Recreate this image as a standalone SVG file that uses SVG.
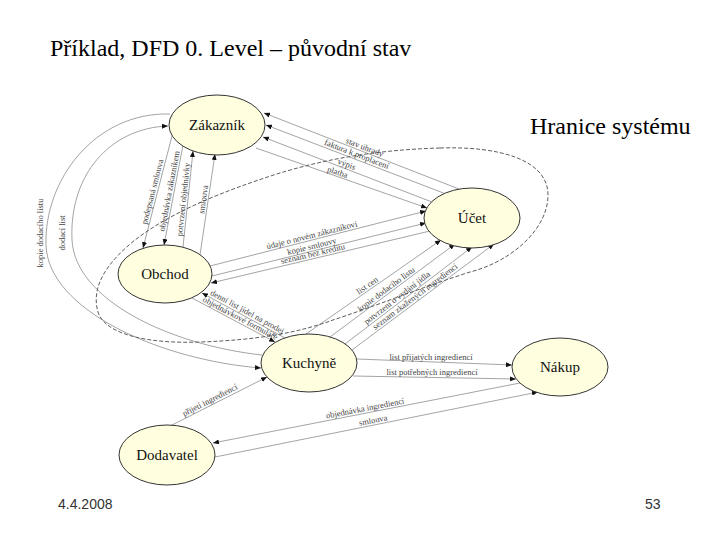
<svg xmlns="http://www.w3.org/2000/svg" width="720" height="540" viewBox="0 0 720 540">
<style>
.bg{fill:#ffffff}
.node ellipse{fill:#ffffe0;stroke:#333;stroke-width:1}
.node text{font-family:"Liberation Serif","Times New Roman",serif;font-weight:normal;font-size:15px;fill:#111;text-anchor:middle}
.flow{fill:none;stroke:#666;stroke-width:0.6}
.arr{marker-end:url(#ah)}
.lbl{font-family:"Liberation Serif","Times New Roman",serif;font-size:8.5px;fill:#444;text-anchor:middle}
.bound{fill:none;stroke:#333;stroke-width:0.8;stroke-dasharray:4 2}
.title{font-family:"Liberation Serif","Times New Roman",serif;font-weight:normal;font-size:24px;fill:#000}
.foot{font-family:"Liberation Sans",Arial,sans-serif;font-size:14px;fill:#333}
</style>
<defs>
<marker id="ah" viewBox="0 0 6 5" refX="6" refY="2.5" markerWidth="6" markerHeight="5" markerUnits="userSpaceOnUse" orient="auto">
<path d="M0,0 L6,2.5 L0,5 z" fill="#111"/>
</marker>
</defs>
<rect class="bg" x="0" y="0" width="720" height="540"/>
<text class="title" x="50" y="56">Příklad, DFD 0. Level – původní stav</text>
<text class="title" x="530" y="134">Hranice systému</text>
<text class="foot" x="58" y="509">4.4.2008</text>
<text class="foot" x="645" y="509">53</text>

<g id="connectors">
<path class="bound" d="M440,148 C500,146 548,160 548,195 C548,230 510,262 470,272 C420,288 370,308 333,320 C300,332 260,340 200,342 C150,344 105,335 98,312 C90,285 110,260 135,240 C170,213 220,192 280,173 C320,161 370,150 440,148 Z"/>
<!-- Zakaznik - Ucet -->
<line class="flow arr" x1="459" y1="189" x2="264" y2="113"/>
<line class="flow arr" x1="446" y1="194" x2="266" y2="125"/>
<line class="flow arr" x1="432" y1="202" x2="263" y2="137"/>
<line class="flow arr" x1="256" y1="148" x2="427" y2="208"/>
<text class="lbl" transform="translate(363,151.7) rotate(21)" y="-2">stav úhrady</text>
<text class="lbl" transform="translate(355,158.7) rotate(21)" y="-2">faktura k proplacení</text>
<text class="lbl" transform="translate(345,168.7) rotate(21)" y="-2">výpis</text>
<text class="lbl" transform="translate(336,176.7) rotate(19)" y="-2">platba</text>
<!-- Zakaznik - Obchod -->
<line class="flow arr" x1="172" y1="136" x2="143" y2="248"/>
<line class="flow arr" x1="183" y1="145" x2="164" y2="245"/>
<line class="flow arr" x1="183" y1="247" x2="193" y2="151"/>
<line class="flow arr" x1="200" y1="255" x2="215" y2="154"/>
<text class="lbl" transform="translate(157,193) rotate(-75.5)" y="-2">podepsaná smlouva</text>
<text class="lbl" transform="translate(174,192) rotate(-79.2)" y="-2">objednávka zákazníkem</text>
<text class="lbl" transform="translate(188,200) rotate(-84)" y="-2">potvrzení objednávky</text>
<text class="lbl" transform="translate(208,200) rotate(-81.6)" y="-2">smlouva</text>
<!-- Zakaznik - Kuchyne -->
<path class="flow arr" d="M170,114 C95,112 44,180 46,245 C48,310 160,360 261,368"/>
<path class="flow arr" d="M262,355 C170,345 75,300 72,240 C69,175 110,128 168,126"/>
<text class="lbl" transform="translate(40,233) rotate(-90)" dy="3">kopie dodacího listu</text>
<text class="lbl" transform="translate(62,233) rotate(-90)" dy="3">dodací list</text>
<!-- Obchod - Ucet -->
<line class="flow arr" x1="210" y1="266" x2="426" y2="211"/>
<line class="flow arr" x1="212" y1="276" x2="426" y2="223"/>
<line class="flow arr" x1="430" y1="231" x2="211" y2="283"/>
<text class="lbl" transform="translate(313,239.8) rotate(-14.3)" y="-2">údaje o novém zákazníkovi</text>
<text class="lbl" transform="translate(313,251) rotate(-13.9)" y="-2">kopie smlouvy</text>
<text class="lbl" transform="translate(314,258.4) rotate(-13.3)" y="-2">seznam bez kreditu</text>
<!-- Kuchyne - Ucet -->
<line class="flow arr" x1="306" y1="334" x2="441" y2="240"/>
<line class="flow arr" x1="330" y1="337" x2="455" y2="244"/>
<line class="flow arr" x1="345" y1="344" x2="472" y2="247"/>
<line class="flow arr" x1="352" y1="350" x2="494" y2="244"/>
<text class="lbl" transform="translate(370,289.4) rotate(-34.8)" y="-2">list cen</text>
<text class="lbl" transform="translate(389,293) rotate(-36.6)" y="-2">kopie dodacího listu</text>
<text class="lbl" transform="translate(400,301.6) rotate(-37.7)" y="-2">potvrzení o vydání jídla</text>
<text class="lbl" transform="translate(418,300.3) rotate(-37)" y="-2">seznam zkažených ingrediencí</text>
<!-- Obchod - Kuchyne -->
<line class="flow arr" x1="285" y1="338" x2="202" y2="293"/>
<line class="flow arr" x1="192" y1="298" x2="275" y2="342"/>
<text class="lbl" transform="translate(245,316) rotate(28.7)" y="-2">denní list jídel na prodej</text>
<text class="lbl" transform="translate(238,322.4) rotate(27.9)" y="-2">objednávkové formuláře</text>
<!-- Kuchyne - Nakup -->
<line class="flow arr" x1="357" y1="359" x2="512" y2="365"/>
<line class="flow arr" x1="353" y1="376" x2="516" y2="379"/>
<text class="lbl" x="431" y="360">list přijatých ingrediencí</text>
<text class="lbl" x="432" y="375">list potřebných ingrediencí</text>
<!-- Dodavatel - Kuchyne -->
<line class="flow arr" x1="170" y1="426" x2="267" y2="377"/>
<text class="lbl" transform="translate(212,404.4) rotate(-27.3)" y="-2">přijetí ingrediencí</text>
<!-- Nakup - Dodavatel -->
<line class="flow arr" x1="520" y1="383" x2="213" y2="443"/>
<line class="flow arr" x1="215" y1="457" x2="538" y2="392"/>
<text class="lbl" transform="translate(366,413) rotate(-11)" y="-2">objednávka ingrediencí</text>
<text class="lbl" transform="translate(374,425) rotate(-11.3)" y="-2">smlouva</text>
</g>

<g id="zakaznik" class="node"><ellipse cx="217" cy="125" rx="48" ry="30"/><text x="217" y="130">Zákazník</text></g>
<g id="ucet" class="node"><ellipse cx="472" cy="218" rx="48" ry="30"/><text x="472" y="223">Účet</text></g>
<g id="obchod" class="node"><ellipse cx="165" cy="274" rx="47" ry="29"/><text x="165" y="279">Obchod</text></g>
<g id="kuchyne" class="node"><ellipse cx="309" cy="363" rx="48" ry="29"/><text x="309" y="368">Kuchyně</text></g>
<g id="nakup" class="node"><ellipse cx="560" cy="367" rx="48" ry="29"/><text x="560" y="372">Nákup</text></g>
<g id="dodavatel" class="node"><ellipse cx="167" cy="455" rx="48" ry="30"/><text x="167" y="460">Dodavatel</text></g>
</svg>
